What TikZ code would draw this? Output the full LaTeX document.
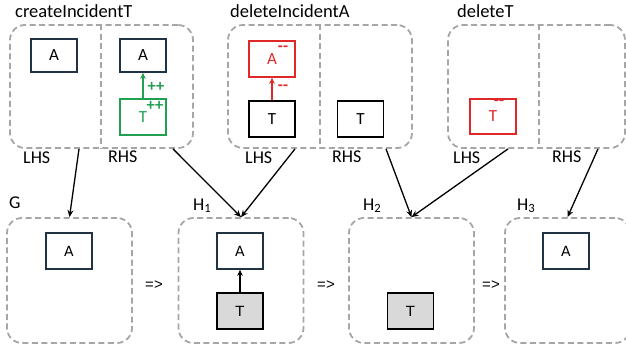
\documentclass[tikz,border=0pt]{standalone}
\usepackage{fontspec}
\setmainfont{Carlito}
\newfontfamily\boxfont{DejaVu Sans}
\newfontfamily\derfont{Liberation Sans}
\usetikzlibrary{arrows.meta}
\definecolor{navy}{HTML}{1F3344}
\definecolor{rulegray}{HTML}{A6A6A6}
\definecolor{gfill}{HTML}{D9D9D9}
\definecolor{plusgreen}{HTML}{22A052}
\definecolor{minusred}{HTML}{E02828}
\tikzset{
  rulebox/.style={draw=rulegray, line width=1.8pt, dash pattern=on 6pt off 3.5pt, rounded corners=15pt, minimum width=#1, minimum height=123pt, inner sep=0pt},
  graphbox/.style={draw=rulegray, line width=1.8pt, dash pattern=on 6pt off 3.5pt, rounded corners=15pt, minimum width=125pt, minimum height=125pt, inner sep=0pt},
  divider/.style={draw=rulegray, line width=1.8pt, dash pattern=on 6pt off 3.5pt},
  elem/.style={draw=#1, line width=1.6pt, minimum width=46pt, minimum height=35pt, inner sep=0pt, font=\fontsize{17}{17}\selectfont},
  gelem/.style={draw=#1, line width=1.6pt, minimum width=46pt, minimum height=36pt, inner sep=0pt, font=\boxfont\fontsize{14}{14}\selectfont},
  title/.style={anchor=base west, font=\fontsize{18.5}{19}\selectfont, inner sep=0pt},
  side/.style={anchor=base west, font=\fontsize{18}{18}\selectfont, inner sep=0pt},
  conn/.style={line width=1.3pt, -{Stealth[length=7pt,width=6pt]}},
  inner/.style={line width=2pt, -{Stealth[length=6pt,width=5.5pt]}},
  pmark/.style={font=\bfseries\fontsize{16.5}{16.5}\selectfont, inner sep=0pt},
  der/.style={font=\derfont\fontsize{15}{15}\selectfont, inner sep=0pt},
}
\begin{document}
\begin{tikzpicture}[x=1pt,y=-1pt]
\useasboundingbox (0,0) rectangle (626,350);
\clip (0,0) rectangle (626,350);

% rule boxes
\node[rulebox=183pt] (r1) at (101.5,86.5) {};
\node[rulebox=184pt] (r2) at (320,86.5) {};
\node[rulebox=177pt] (r3) at (536.5,86.5) {};
\draw[divider] ([xshift=-0.5pt]r1.north) -- ([xshift=-0.5pt]r1.south);
\draw[divider] (r2.north) -- (r2.south);
\draw[divider] ([xshift=2.5pt]r3.north) -- ([xshift=2.5pt]r3.south);

% titles
\node[title] (t1) at (15,18) {createIncidentT};
\node[title] (t2) at (230,18) {deleteIncidentA};
\node[title] (t3) at (457,18) {deleteT};

% side labels
\node[side] (l1) at (23,163) {LHS};
\node[side] (s1) at (108,162) {RHS};
\node[side] (l2) at (245,163) {LHS};
\node[side] (s2) at (332,162) {RHS};
\node[side] (l3) at (453,163) {LHS};
\node[side] (s3) at (552,162) {RHS};

% createIncidentT
\node[elem=navy, minimum height=33pt] (a1l) at (54,55.5) {A};
\node[elem=navy, minimum height=33pt] (a1r) at (143,55.5) {A};
\node[elem=plusgreen, text=plusgreen, minimum height=36pt] (t1r) at (143,117) {T};
\node[pmark, text=plusgreen] (p1) at (155,106) {++};
\draw[inner, plusgreen] (t1r) -- (a1r);
\node[pmark, text=plusgreen] (p2) at (156,87) {++};

% deleteIncidentA
\node[elem=minusred, text=minusred, minimum height=36pt] (a2l) at (272,59) {A};
\node[pmark, text=minusred] (m1) at (283,49) {-{}-};
\node[elem=black, minimum height=36pt] (t2l) at (272,119) {T};
\draw[inner, minusred] (t2l) -- (a2l);
\node[pmark, text=minusred] (m2) at (283,88) {-{}-};
\node[elem=black, minimum height=36pt] (t2r) at (360.5,119) {T};

% deleteT
\node[elem=minusred, text=minusred, minimum height=35pt] (t3l) at (493,116.5) {T};
\node[pmark, text=minusred] (m3) at (499,103) {-{}-};

% graphs
\node[graphbox] (g) at (69.5,280.5) {};
\node[graphbox] (h1) at (241,280.5) {};
\node[graphbox] (h2) at (411.5,280.5) {};
\node[graphbox] (h3) at (567.5,280.5) {};

\node[side] (gl) at (9,208) {G};
\node[side] (h1l) at (193,210) {H\textsubscript{1}};
\node[side] (h2l) at (363,210) {H\textsubscript{2}};
\node[side] (h3l) at (517,210) {H\textsubscript{3}};

\node[gelem=navy] (ga) at (69,251) {A};
\node[gelem=navy] (h1a) at (240,251) {A};
\node[gelem=black, fill=gfill] (h1t) at (240,311) {T};
\draw[inner, black] (h1t) -- (h1a);
\node[gelem=black, fill=gfill] (h2t) at (410.5,311) {T};
\node[gelem=navy] (h3a) at (566,251) {A};

\node[der] (d1) at (154,285) {=>};
\node[der] (d2) at (326,285) {=>};
\node[der] (d3) at (491,285) {=>};

% morphism arrows
\draw[conn] ([xshift=-22.5pt]r1.south) -- (g.north);
\draw[conn] ([xshift=71.5pt]r1.south) -- (h1.north);
\draw[conn] ([xshift=-25pt]r2.south) -- (h1.north);
\draw[conn] ([xshift=66pt]r2.south) -- (h2.north);
\draw[conn] ([xshift=-28.5pt]r3.south) -- (h2.north);
\draw[conn] ([xshift=61.5pt]r3.south) -- (h3.north);
\end{tikzpicture}
\end{document}
